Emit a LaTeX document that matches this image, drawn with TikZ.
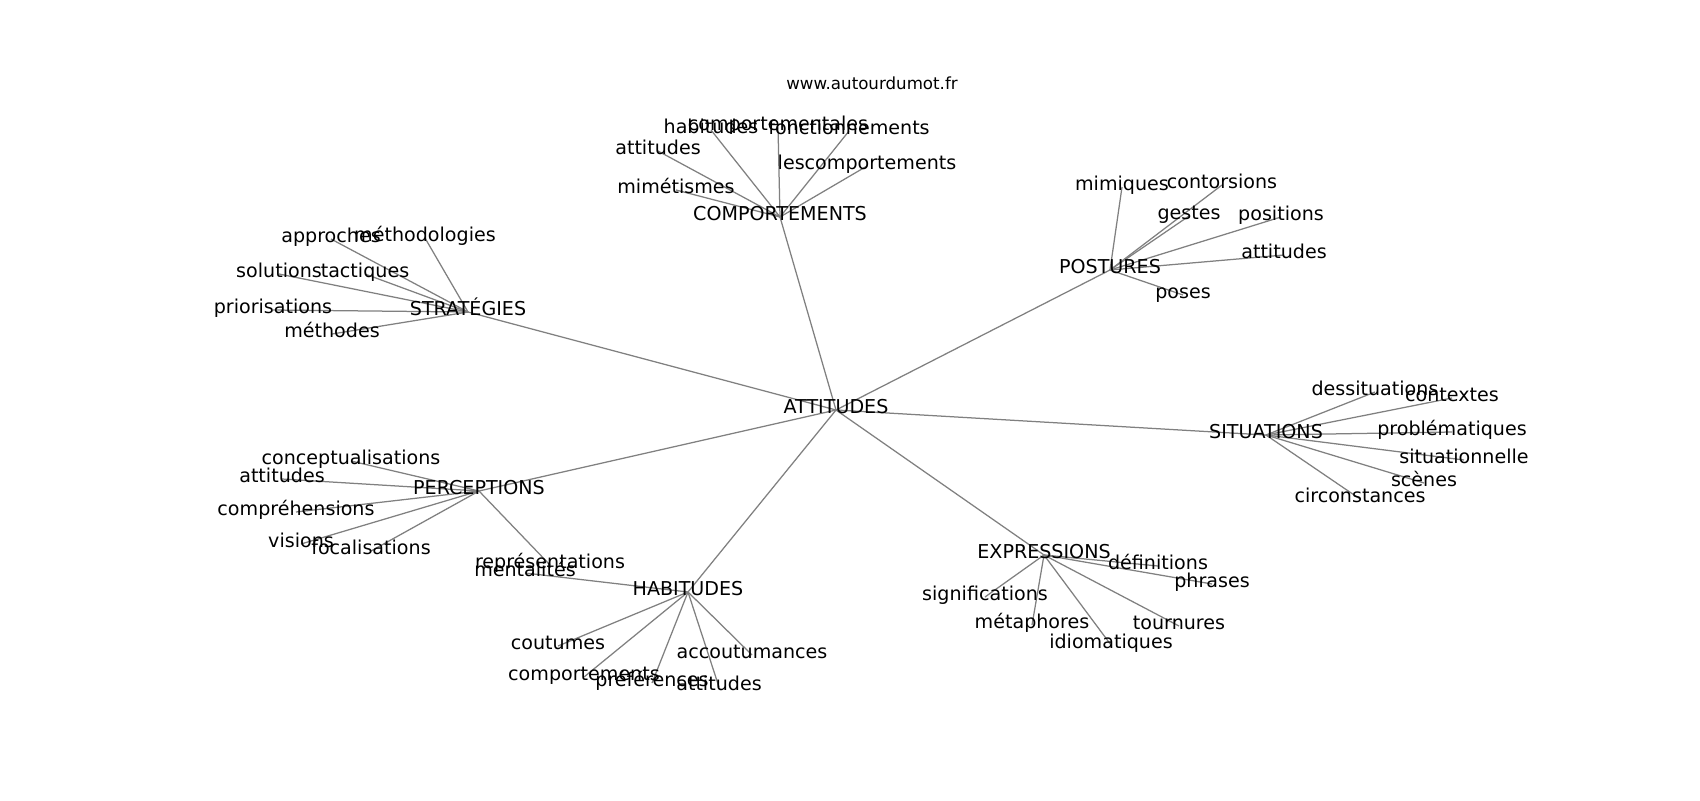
\documentclass[tikz,border=0pt]{standalone}
\usepackage{fontspec}
\setmainfont{DejaVu Sans}
\pgfdeclarelayer{bg}
\pgfsetlayers{bg,main}
\tikzset{
  lbl/.style={inner sep=0pt, anchor=center, font=\fontsize{13.75}{16}\selectfont, text height=0.76em, text depth=0.24em, text=black},
  ttl/.style={inner sep=0pt, anchor=center, font=\fontsize{12}{14}\selectfont, text height=0.76em, text depth=0.24em, text=black},
  edge/.style={draw=gray, line width=0.9pt}
}
\begin{document}
\begin{tikzpicture}[x=0.72pt,y=-0.72pt]
\begin{pgfonlayer}{bg}
\fill[white] (0,0) rectangle (1700,800);
\end{pgfonlayer}
\useasboundingbox (0,0) rectangle (1700,800);
\begin{scope}[shift={(0,3)}]
\node[ttl] (title) at (872,83) {www.autourdumot.fr};
% hubs
\node[lbl] (att) at (836,407) {ATTITUDES};
\node[lbl] (com) at (780,214) {COMPORTEMENTS};
\node[lbl] (str) at (468,309) {STRATÉGIES};
\node[lbl] (pos) at (1110,267) {POSTURES};
\node[lbl] (sit) at (1266,432) {SITUATIONS};
\node[lbl] (per) at (479,488) {PERCEPTIONS};
\node[lbl] (hab) at (688,589) {HABITUDES};
\node[lbl] (exp) at (1044,552) {EXPRESSIONS};
% comportements
\node[lbl] (c1) at (711,127) {habitudes};
\node[lbl] (c2) at (778,124) {comportementales};
\node[lbl] (c3) at (849,128) {fonctionnements};
\node[lbl] (c4) at (658,148) {attitudes};
\node[lbl] (c5) at (867,163) {lescomportements};
\node[lbl] (c6) at (676,187) {mimétismes};
% strategies
\node[lbl] (s1) at (331,236) {approches};
\node[lbl] (s2) at (425,235) {méthodologies};
\node[lbl] (s3) at (279,271) {solutions};
\node[lbl] (s4) at (365,271) {tactiques};
\node[lbl] (s5) at (273,307) {priorisations};
\node[lbl] (s6) at (332,331) {méthodes};
% postures
\node[lbl] (p1) at (1122,184) {mimiques};
\node[lbl] (p2) at (1222,182) {contorsions};
\node[lbl] (p3) at (1189,213) {gestes};
\node[lbl] (p4) at (1281,214) {positions};
\node[lbl] (p5) at (1284,252) {attitudes};
\node[lbl] (p6) at (1183,292) {poses};
% situations
\node[lbl] (t1) at (1375,389) {dessituations};
\node[lbl] (t2) at (1452,395) {contextes};
\node[lbl] (t3) at (1452,429) {problématiques};
\node[lbl] (t4) at (1464,457) {situationnelle};
\node[lbl] (t5) at (1424,480) {scènes};
\node[lbl] (t6) at (1360,496) {circonstances};
% perceptions
\node[lbl] (q1) at (351,458) {conceptualisations};
\node[lbl] (q2) at (282,476) {attitudes};
\node[lbl] (q3) at (296,509) {compréhensions};
\node[lbl] (q4) at (301,541) {visions};
\node[lbl] (q5) at (371,548) {focalisations};
\node[lbl] (q6) at (550,562) {représentations};
% habitudes
\node[lbl] (h1) at (525,570) {mentalités};
\node[lbl] (h2) at (558,643) {coutumes};
\node[lbl] (h3) at (752,652) {accoutumances};
\node[lbl] (h4) at (584,674) {comportements};
\node[lbl] (h5) at (652,680) {préférences};
\node[lbl] (h6) at (719,684) {attitudes};
% expressions
\node[lbl] (e1) at (1158,563) {définitions};
\node[lbl] (e2) at (1212,581) {phrases};
\node[lbl] (e3) at (985,594) {significations};
\node[lbl] (e4) at (1032,622) {métaphores};
\node[lbl] (e5) at (1179,623) {tournures};
\node[lbl] (e6) at (1111,642) {idiomatiques};
\end{scope}
\begin{pgfonlayer}{bg}
\foreach \h in {com,str,pos,sit,per,hab,exp}
  \draw[edge] (att.center) -- (\h.center);
\foreach \l in {c1,c2,c3,c4,c5,c6}
  \draw[edge] (com.center) -- (\l.center);
\foreach \l in {s1,s2,s3,s4,s5,s6}
  \draw[edge] (str.center) -- (\l.center);
\foreach \l in {p1,p2,p3,p4,p5,p6}
  \draw[edge] (pos.center) -- (\l.center);
\foreach \l in {t1,t2,t3,t4,t5,t6}
  \draw[edge] (sit.center) -- (\l.center);
\foreach \l in {q1,q2,q3,q4,q5,q6}
  \draw[edge] (per.center) -- (\l.center);
\foreach \l in {h1,h2,h3,h4,h5,h6}
  \draw[edge] (hab.center) -- (\l.center);
\foreach \l in {e1,e2,e3,e4,e5,e6}
  \draw[edge] (exp.center) -- (\l.center);
\end{pgfonlayer}
\end{tikzpicture}
\end{document}
